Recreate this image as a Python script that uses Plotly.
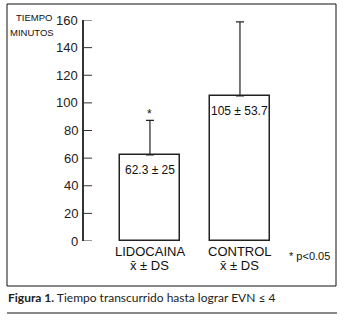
import plotly.graph_objects as go

categories = ["LIDOCAINA", "CONTROL"]
means = [62.3, 105]
sds = [25, 53.7]
value_labels = ["62.3 ± 25", "105 ± 53.7"]
y_ticks = [0, 20, 40, 60, 80, 100, 120, 140, 160]

W, H = 346, 321
L, R, T, B = 84, 336, 20, 241  # plot area in pixels


def px(x):
    return (x - L) / (R - L)


def py(y):
    return (B - y) / (B - T)


FONT = "Liberation Sans, Arial, sans-serif"
xpos = [0, 1]

fig = go.Figure()
fig.add_trace(go.Bar(
    x=xpos, y=means, width=0.667,
    marker=dict(color="white", line=dict(color="#222", width=1.5)),
    error_y=dict(type="data", array=sds, arrayminus=[0, 0], symmetric=False,
                 color="#222", thickness=1.2, width=4),
    showlegend=False, hoverinfo="skip",
))

annotations = []
for x, m, lab in zip(xpos, means, value_labels):
    annotations.append(dict(x=x, y=m, xref="x", yref="y", text=lab, showarrow=False,
                            yanchor="top", yshift=-6, font=dict(family=FONT, size=12, color="#111")))
annotations.append(dict(x=0, y=means[0] + sds[0], xref="x", yref="y", text="*", showarrow=False,
                        yanchor="bottom", yshift=-3, font=dict(family=FONT, size=12, color="#111")))
for x, c in zip(xpos, categories):
    annotations.append(dict(x=x, y=0, xref="x", yref="y", text=c, showarrow=False,
                            yanchor="top", yshift=-1, font=dict(family=FONT, size=13, color="#111")))
    annotations.append(dict(x=x, y=0, xref="x", yref="y", text="x̄ ± DS", showarrow=False,
                            yanchor="top", yshift=-15, font=dict(family=FONT, size=13, color="#111")))
for t in y_ticks:
    annotations.append(dict(x=px(80), y=t, xref="paper", yref="y", text=str(t), showarrow=False,
                            xanchor="right", yanchor="middle",
                            font=dict(family=FONT, size=13, color="#222")))
annotations.append(dict(x=px(287), y=py(256), xref="paper", yref="paper", text="* p<0.05",
                        showarrow=False, xanchor="left", yanchor="middle",
                        font=dict(family=FONT, size=11, color="#111")))
annotations.append(dict(x=px(54), y=py(17), xref="paper", yref="paper",
                        text="TIEMPO", showarrow=False, xanchor="right", yanchor="middle",
                        font=dict(family=FONT, size=9.5, color="#111")))
annotations.append(dict(x=px(56), y=py(32), xref="paper", yref="paper",
                        text="MINUTOS", showarrow=False, xanchor="right", yanchor="middle",
                        font=dict(family=FONT, size=9.5, color="#111")))
annotations.append(dict(x=px(6), y=py(297), xref="paper", yref="paper",
                        text="<b>Figura 1.</b> Tiempo transcurrido hasta lograr EVN ≤ 4",
                        showarrow=False, xanchor="left", yanchor="middle",
                        font=dict(family="Lato, Open Sans, sans-serif", size=12, color="#222")))

shapes = [
    dict(type="rect", xref="paper", yref="paper", x0=px(7), x1=px(336), y0=py(286), y1=py(4),
         line=dict(color="#111", width=1)),
    dict(type="line", xref="paper", yref="paper", x0=px(7), x1=px(337), y0=py(313), y1=py(313),
         line=dict(color="#111", width=1)),
]
for t in y_ticks:
    shapes.append(dict(type="line", xref="paper", yref="y", x0=px(84), x1=px(92), y0=t, y1=t,
                       line=dict(color="#333", width=1)))

fig.update_layout(
    width=W, height=H,
    margin=dict(l=L, r=W - R, t=T, b=H - B),
    paper_bgcolor="white", plot_bgcolor="white",
    xaxis=dict(range=[-0.733, 2.067], showgrid=False, zeroline=False, showticklabels=False,
               showline=False, ticks=""),
    yaxis=dict(range=[0, 160], showgrid=False, zeroline=False, showticklabels=False,
               showline=True, linecolor="#333", linewidth=2, ticks=""),
    annotations=annotations,
    shapes=shapes,
    bargap=0,
)

fig.write_html("out.html")
